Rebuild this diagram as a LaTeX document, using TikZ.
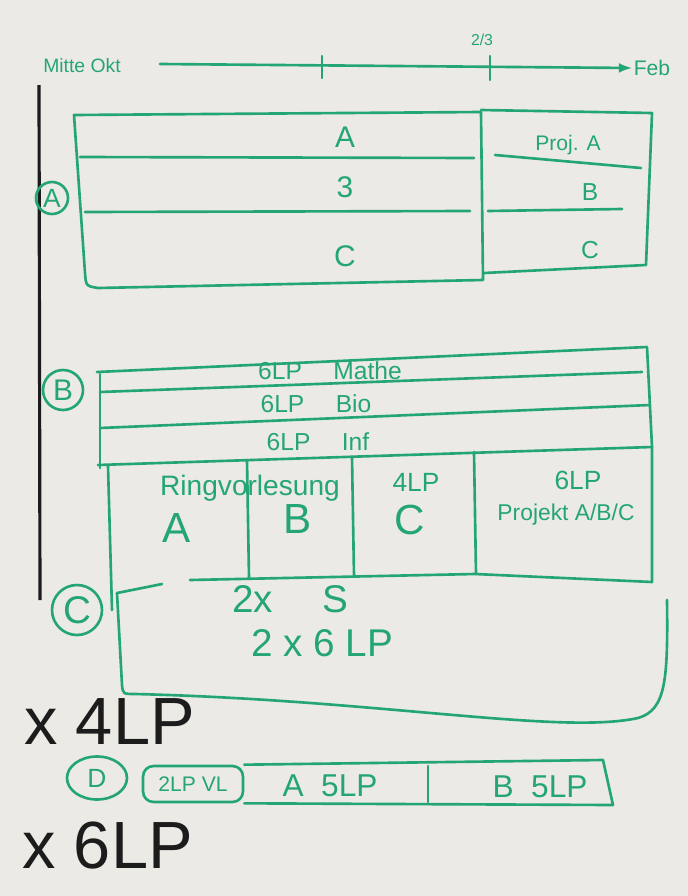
\documentclass[tikz,border=0pt]{standalone}
\usepackage{fontspec}
\setmainfont{Liberation Sans}
\usetikzlibrary{positioning,shapes.geometric}
\definecolor{marker}{RGB}{36,166,116}
\definecolor{board}{RGB}{236,234,229}
\definecolor{ink}{RGB}{28,28,28}

\begin{document}
\begin{tikzpicture}[x=0.02cm, y=-0.02cm, >=latex]
\tikzstyle{pen} = [draw=marker, line width=1.5pt, line cap=round, line join=round]
\tikzstyle{txt} = [text=marker, inner sep=1pt]
\tikzstyle{tag} = [draw=marker, circle, line width=1.5pt, text=marker, inner sep=1pt]
\tikzstyle{blk} = [text=ink, inner sep=1pt, font=\fontsize{38}{42}\selectfont]
\def\fs#1{\fontsize{#1}{#1}\selectfont}

% board
\fill[board] (0,0) rectangle (688,896);
\useasboundingbox (0,0) rectangle (688,896);

% time line
\node[txt, font=\fs{11}] (okt) at (82,66) {Mitte Okt};
\node[txt, font=\fs{12}] (feb) at (652,68) {Feb};
\node[txt, font=\fs{9}] (third) at (482,40) {2/3};
\coordinate (t0) at (160,64);
\draw[pen,->] (t0) -- (feb.west);
\draw[pen] (322,56) -- (322,78);
\draw[pen] (490,56) -- (490,80);

% left bar
\draw[ink, line width=1.8pt] (39,85) -- (40,600);

% block A
\node[tag, font=\fs{15}, minimum size=32*0.02cm] (tagA) at (52,198) {A};
\draw[pen] (74,115) -- (481,112) -- (483,280) -- (98,288) .. controls (86,286) .. (85,273) -- cycle;
\draw[pen] (80,157) -- (474,158);
\draw[pen] (85,212) -- (470,211);
\draw[pen] (481,110) -- (652,113) -- (646,265) -- (484,273);
\draw[pen] (495,155) -- (641,168);
\draw[pen] (488,211) -- (622,209);
\node[txt, font=\fs{17}] (a1) at (345,137) {A};
\node[txt, font=\fs{17}] (a2) at (345,187) {3};
\node[txt, font=\fs{17}] (a3) at (345,256) {C};
\node[txt, font=\fs{12}] (pa) at (568,145) {Proj. A};
\node[txt, font=\fs{14}] (pb) at (590,192) {B};
\node[txt, font=\fs{14}] (pc) at (590,250) {C};

% block B
\node[tag, font=\fs{17}, minimum size=40*0.02cm] (tagB) at (63,390) {B};
\draw[pen] (97,372) -- (647,347) -- (652,447);
\draw[pen] (100,374) -- (100,468);
\draw[pen] (100,392) -- (642,372);
\draw[pen] (100,428) -- (650,405);
\draw[pen] (98,465) -- (652,447);
\draw[pen] (108,466) -- (112,610);
\draw[pen] (190,580) -- (475,574) -- (652,582) -- (652,447);
\draw[pen] (247,460) -- (249,578);
\draw[pen] (352,457) -- (354,576);
\draw[pen] (474,452) -- (476,574);
\node[txt, font=\fs{14}] (b1) at (330,371) {6LP \quad Mathe};
\node[txt, font=\fs{14}] (b2) at (316,404) {6LP \quad Bio};
\node[txt, font=\fs{14}] (b3) at (318,442) {6LP \quad Inf};
\node[txt, font=\fs{16}] (ring) at (250,488) {Ringvorlesung};
\node[txt, font=\fs{15}] (c4) at (416,482) {4LP};
\node[txt, font=\fs{24}] (colA) at (177,528) {A};
\node[txt, font=\fs{24}] (colB) at (298,519) {B};
\node[txt, font=\fs{24}] (colC) at (410,520) {C};
\node[txt, font=\fs{15}] (p6) at (578,480) {6LP};
\node[txt, font=\fs{13}] (proj) at (566,515) {Projekt A/B/C};

% block C
\node[tag, font=\fs{22}, minimum size=50*0.02cm] (tagC) at (77,610) {C};
\draw[pen] (117,593) -- (162,584);
\draw[pen] (117,593) -- (122,685) .. controls (123,694) .. (135,694)
  .. controls (380,700) and (560,735) .. (638,718)
  .. controls (666,710) and (668,680) .. (667,600);
\node[txt, font=\fs{22}] (c1) at (290,599) {2x \quad S};
\node[txt, font=\fs{22}] (c2) at (322,643) {2 x 6 LP};

% black notes
\node[blk, anchor=west] (n4) at (22,722) {x 4LP};
\node[blk, anchor=west] (n6) at (20,846) {x 6LP};

% block D
\node[tag, font=\fs{15}, ellipse, minimum width=60*0.02cm, minimum height=43*0.02cm] (tagD) at (97,778) {D};
\node[draw=marker, line width=1.5pt, rounded corners=6pt, text=marker,
      minimum width=100*0.02cm, minimum height=36*0.02cm, font=\fs{12}] (vl) at (193,784) {2LP VL};
\draw[pen] (vl.north east) -- (603,760) -- (613,805) -- (vl.south east);
\draw[pen] (428,766) -- (428,802);
\node[txt, font=\fs{18}] (d1) at (330,786) {A \ 5LP};
\node[txt, font=\fs{18}] (d2) at (540,787) {B \ 5LP};

\end{tikzpicture}
\end{document}
